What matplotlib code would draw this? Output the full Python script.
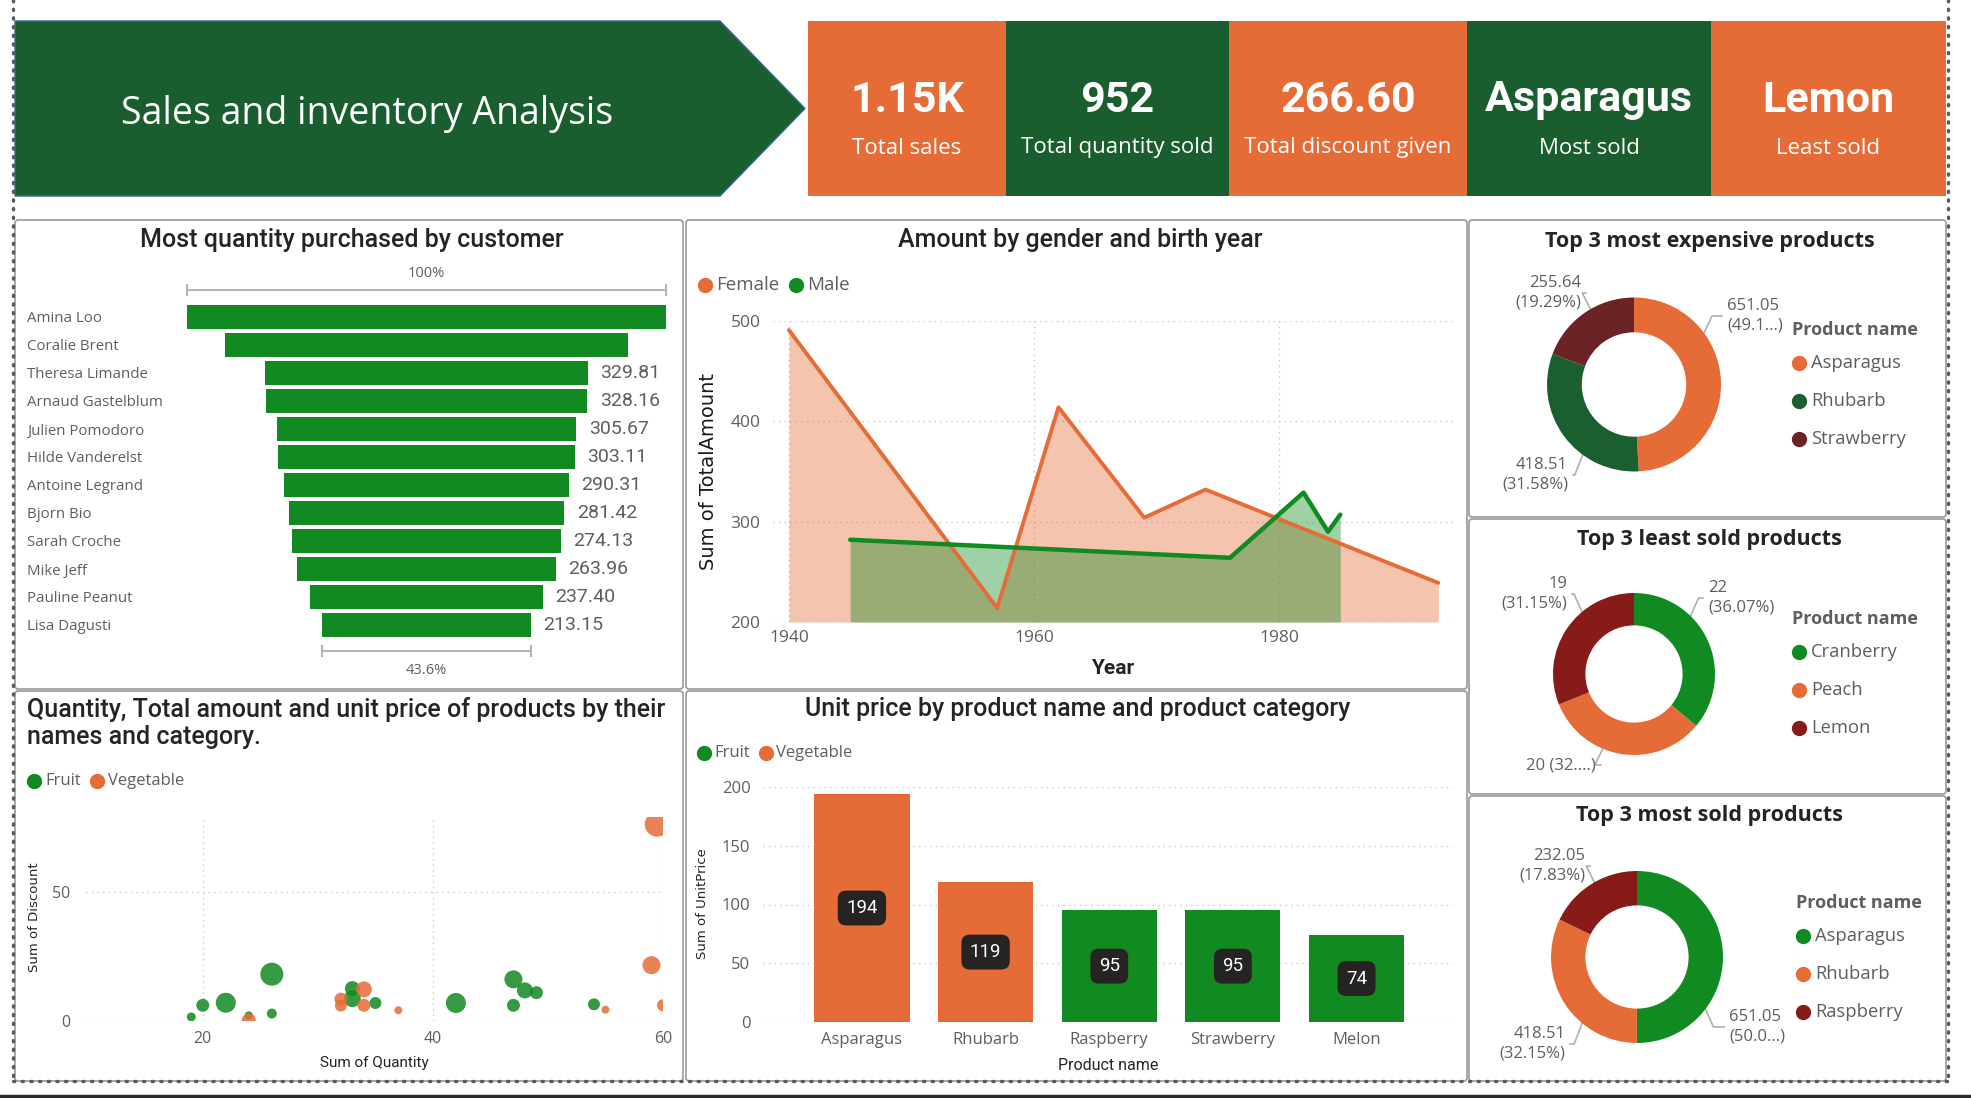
import matplotlib
matplotlib.use('Agg')
import matplotlib.pyplot as plt
import numpy as np
from matplotlib import font_manager as fm
from matplotlib.patches import Polygon, Rectangle, FancyBboxPatch

W, H = 1971, 1098

installed = {f.name for f in fm.fontManager.ttflist}
def pick(*names):
    for n in names:
        if n in installed:
            return n
    return 'DejaVu Sans'

SEGOE = pick('Open Sans', 'Noto Sans', 'Lato')
DIN = pick('Roboto', 'Inter', 'Lato')
WIDE = 'DejaVu Sans'

ORANGE = '#E66C37'
DKGREEN = '#1A5E2F'
GREEN = '#118A22'
TXT = '#252423'
GRAY = '#605E5C'
GRID = '#C8C8C8'

# ---------------- data ----------------
kpi_values = ['1.15K', '952', '266.60', 'Asparagus', 'Lemon']
kpi_labels = ['Total sales', 'Total quantity sold', 'Total discount given', 'Most sold', 'Least sold']

customers = ['Amina Loo', 'Coralie Brent', 'Theresa Limande', 'Arnaud Gastelblum', 'Julien Pomodoro',
             'Hilde Vanderelst', 'Antoine Legrand', 'Bjorn Bio', 'Sarah Croche', 'Mike Jeff',
             'Pauline Peanut', 'Lisa Dagusti']
customer_qty = [488.90, 412.10, 329.81, 328.16, 305.67, 303.11, 290.31, 281.42, 274.13, 263.96, 237.40, 213.15]

female_year = [1940, 1957, 1962, 1969, 1974, 1993]
female_amount = [491, 214, 414, 304, 332, 239]
male_year = [1945, 1976, 1982, 1984, 1985]
male_amount = [282, 264, 329, 290, 307]

fruit_qty = [19, 20, 22, 24, 26, 26, 33, 33, 35, 42, 47, 47, 48, 49, 54]
fruit_discount = [1.6, 6.1, 7.1, 2.2, 18.2, 2.9, 12.6, 8.7, 7.0, 7.0, 16.2, 6.1, 11.9, 11.0, 6.5]
fruit_price = [20, 42, 100, 16, 132, 25, 56, 72, 36, 100, 81, 42, 64, 42, 36]
veg_qty = [24, 32, 32, 34, 34, 37, 55, 59, 59.5, 60]
veg_discount = [0.3, 8.5, 6.0, 12.3, 6.1, 4.2, 4.4, 21.7, 76.5, 6.1]
veg_price = [49, 42, 36, 64, 42, 16, 16, 81, 156, 36]

products = ['Asparagus', 'Rhubarb', 'Raspberry', 'Strawberry', 'Melon']
product_category = ['Vegetable', 'Vegetable', 'Fruit', 'Fruit', 'Fruit']
unit_price = [194, 119, 95, 95, 74]

exp_names = ['Asparagus', 'Rhubarb', 'Strawberry']
exp_values = [651.05, 418.51, 255.64]
least_names = ['Cranberry', 'Peach', 'Lemon']
least_values = [22, 20, 19]
most_names = ['Asparagus', 'Rhubarb', 'Raspberry']
most_values = [651.05, 418.51, 232.05]

# ---------------- canvas ----------------
fig = plt.figure(figsize=(W / 100, H / 100), dpi=100)
bg = fig.add_axes([0, 0, 1, 1], zorder=0)
bg.set_xlim(0, W)
bg.set_ylim(H, 0)
bg.axis('off')

def box(x0, y0, x1, y1):
    a = fig.add_axes([x0 / W, 1 - y1 / H, (x1 - x0) / W, (y1 - y0) / H], zorder=2)
    a.patch.set_alpha(0)
    return a

def clean(a):
    for s in a.spines.values():
        s.set_visible(False)
    a.tick_params(length=0, labelcolor=GRAY)

TW = 'medium'  # weight of the chart titles

# outer dotted frame
dot = dict(color='#5A5A5A', lw=2.4, ls=(0, (0.4, 2.2)), dash_capstyle='round', zorder=5)
bg.plot([13, 13], [0, 1081], **dot)
bg.plot([1948, 1948], [0, 1081], **dot)
bg.plot([13, 1948], [1081, 1081], **dot)
bg.plot([0, W], [1096, 1096], color='#2B2B2B', lw=2.5)

# banner
bg.add_patch(Polygon([(15, 21), (720, 21), (805, 108.5), (720, 196), (15, 196)],
                     closed=True, fc=DKGREEN, ec='#2F6A8F', lw=1))
bg.text(367, 114, 'Sales and inventory Analysis', color='white', fontsize=27,
        family=SEGOE, ha='center', va='center')

card_edges = [808, 1006, 1229, 1467, 1711, 1946]
for i, (v, l) in enumerate(zip(kpi_values, kpi_labels)):
    x0, x1 = card_edges[i], card_edges[i + 1]
    bg.add_patch(Rectangle((x0, 21), x1 - x0, 175, fc=ORANGE if i % 2 == 0 else DKGREEN, ec='none'))
    bg.text((x0 + x1) / 2, 100, v, color='white', fontsize=31, fontweight='bold',
            family=DIN, ha='center', va='center')
    bg.text((x0 + x1) / 2, 148, l, color='white', fontsize=16, family=SEGOE,
            ha='center', va='center')

panels = [(15, 220, 683, 689), (686, 220, 1467, 689), (1469, 220, 1946, 517),
          (1469, 519, 1946, 794), (1469, 796, 1946, 1081), (15, 691, 683, 1081),
          (686, 691, 1467, 1081)]
for x0, y0, x1, y1 in panels:
    bg.add_patch(FancyBboxPatch((x0, y0), x1 - x0, y1 - y0,
                                boxstyle='round,pad=0,rounding_size=3',
                                fc='white', ec='#9A9A9A', lw=1.2))

# ---------------- funnel ----------------
bg.text(352, 240, 'Most quantity purchased by customer', fontsize=18, fontweight=TW,
        family=DIN, color=TXT, ha='center', va='center')
ax = box(187, 303, 666, 639)
q = np.array(customer_qty)
rows = np.arange(len(customers))
ax.barh(rows, q, left=-q / 2, height=0.89, color=GREEN)
ax.set_xlim(-q[0] / 2, q[0] / 2)
ax.set_ylim(11.5, -0.5)
ax.set_xticks([])
ax.set_yticks(rows, customers)
clean(ax)
ax.tick_params(axis='y', pad=(187 - 27) * 0.72, labelsize=10.8)
for t in ax.get_yticklabels():
    t.set_ha('left')
    t.set_family(SEGOE)
room = (676 - 426) / 479 * q[0]
for r, v in zip(rows, q):
    if v / 2 + 0.15 * q[0] < room:
        ax.annotate(f'{v:.2f}', (v / 2, r), xytext=(9, 0), textcoords='offset points',
                    va='center', ha='left', fontsize=14, family=DIN, color=GRAY)
br = dict(color='#B5B5B5', lw=1.5, clip_on=False)
for y, v, ty in [(-0.97, q[0], -1.55), (11.93, q[-1], 12.62)]:
    ax.plot([-v / 2, v / 2], [y, y], **br)
    ax.plot([-v / 2, -v / 2], [y - 0.18, y + 0.18], **br)
    ax.plot([v / 2, v / 2], [y - 0.18, y + 0.18], **br)
    ax.text(0, ty, f'{v / q[0] * 100:.3g}%', ha='center', va='center', fontsize=10.5,
            family=SEGOE, color=GRAY)

# ---------------- line / area chart ----------------
bg.text(1080, 240, 'Amount by gender and birth year', fontsize=18, fontweight=TW,
        family=DIN, color=TXT, ha='center', va='center')
for x, lab, c in [(705, 'Female', ORANGE), (796, 'Male', GREEN)]:
    bg.plot(x, 285, 'o', ms=10, color=c)
    bg.text(x + 11, 285, lab, fontsize=13.5, family=SEGOE, color=GRAY, va='center')
ax = box(773, 321, 1453, 622)
ax.fill_between(female_year, female_amount, 200, color=ORANGE, alpha=0.4, lw=0)
ax.fill_between(male_year, male_amount, 200, color=GREEN, alpha=0.4, lw=0)
ax.plot(female_year, female_amount, color=ORANGE, lw=2.8, solid_capstyle='round')
ax.plot(male_year, male_amount, color=GREEN, lw=3.2, solid_capstyle='round')
ax.set_xlim(1938.7, 1994.2)
ax.set_ylim(200, 500)
ax.set_xticks([1940, 1960, 1980])
ax.set_yticks([200, 300, 400, 500])
ax.grid(True, color=GRID, ls=(0, (1, 3)), lw=1)
ax.set_axisbelow(True)
clean(ax)
ax.tick_params(axis='y', pad=9, labelsize=12.5)
ax.tick_params(axis='x', pad=6, labelsize=12.5)
for t in ax.get_xticklabels() + ax.get_yticklabels():
    t.set_family(SEGOE)
ax.set_ylabel('Sum of TotalAmount', fontsize=14, family=WIDE, color='#1A1A1A')
ax.yaxis.set_label_coords((709 - 773) / 680, 0.5)
ax.yaxis.label.set_va('center')
ax.set_xlabel('Year', fontsize=15, family=DIN, fontweight='bold', color=TXT)
ax.xaxis.set_label_coords(0.5, (622 - 668) / 301)
ax.xaxis.label.set_va('center')

# ---------------- scatter ----------------
bg.text(27, 709, 'Quantity, Total amount and unit price of products by their', fontsize=18,
        fontweight=TW, family=DIN, color=TXT, va='center')
bg.text(27, 737, 'names and category.', fontsize=18, fontweight=TW, family=DIN, color=TXT,
        va='center')
for x, lab, c in [(34, 'Fruit', GREEN), (97, 'Vegetable', ORANGE)]:
    bg.plot(x, 781, 'o', ms=10, color=c)
    bg.text(x + 11, 781, lab, fontsize=12, family=SEGOE, color=GRAY, va='center')
ax = box(86, 817, 663, 1021)
sz = lambda p: (2 * np.sqrt(np.array(p)) * 0.72) ** 2
ax.scatter(fruit_qty, fruit_discount, s=sz(fruit_price), color=GREEN, alpha=0.85, lw=0, zorder=3)
ax.scatter(veg_qty, veg_discount, s=sz(veg_price), color=ORANGE, alpha=0.85, lw=0, zorder=3)
ax.set_xlim(9.85, 60)
ax.set_ylim(0, 79.3)
ax.set_xticks([20, 40, 60])
ax.set_yticks([0, 50])
ax.grid(True, color=GRID, ls=(0, (1, 3)), lw=1)
ax.set_axisbelow(True)
clean(ax)
ax.tick_params(axis='y', pad=11, labelsize=11.5)
ax.tick_params(axis='x', pad=7, labelsize=11.5)
for t in ax.get_xticklabels() + ax.get_yticklabels():
    t.set_family(SEGOE)
ax.set_ylabel('Sum of Discount', fontsize=9.5, family=WIDE, color=TXT)
ax.yaxis.set_label_coords((35 - 86) / 577, 0.51)
ax.yaxis.label.set_va('center')
ax.set_xlabel('Sum of Quantity', fontsize=11, family=DIN, color=TXT)
ax.xaxis.set_label_coords(0.5, (1021 - 1063) / 204)
ax.xaxis.label.set_va('center')

# ---------------- bar chart ----------------
bg.text(1078, 709, 'Unit price by product name and product category', fontsize=18,
        fontweight=TW, family=DIN, color=TXT, ha='center', va='center')
for x, lab, c in [(704, 'Fruit', GREEN), (766, 'Vegetable', ORANGE)]:
    bg.plot(x, 753, 'o', ms=10, color=c)
    bg.text(x + 10, 753, lab, fontsize=12, family=SEGOE, color=GRAY, va='center')
ax = box(763, 787, 1453, 1022)
xs = np.arange(len(products))
cols = [ORANGE if c == 'Vegetable' else GREEN for c in product_category]
ax.bar(xs, unit_price, width=0.77, color=cols, zorder=3)
for x, v in zip(xs, unit_price):
    ax.text(x, v / 2, str(v), ha='center', va='center', color='white', fontsize=13.5,
            family=DIN, zorder=4,
            bbox=dict(boxstyle='round,pad=0.45,rounding_size=0.45', fc='#252423', ec='none'))
ax.set_xlim(-0.8, 4.78)
ax.set_ylim(0, 200)
ax.set_yticks([0, 50, 100, 150, 200])
ax.set_xticks(xs, products)
ax.grid(True, axis='y', color=GRID, ls=(0, (1, 3)), lw=1)
ax.set_axisbelow(True)
clean(ax)
ax.tick_params(axis='y', pad=9, labelsize=12)
ax.tick_params(axis='x', pad=7, labelsize=12)
for t in ax.get_xticklabels() + ax.get_yticklabels():
    t.set_family(SEGOE)
ax.set_ylabel('Sum of UnitPrice', fontsize=9.5, family=WIDE, color=TXT)
ax.yaxis.set_label_coords((703 - 763) / 690, 0.502)
ax.yaxis.label.set_va('center')
ax.set_xlabel('Product name', fontsize=11.5, family=DIN, color=TXT)
ax.xaxis.set_label_coords(0.5, (1022 - 1066) / 235)
ax.xaxis.label.set_va('center')

# ---------------- donuts ----------------
def donut(cx, cy, R, title, ty, names, values, colors, fmt, labels, lx, ly):
    bg.text((1469 + 1946) / 2 + 2, ty, title, fontsize=15.5, fontweight='bold', family=SEGOE,
            color=TXT, ha='center', va='center')
    a = box(cx - R, cy - R, cx + R, cy + R)
    a.pie(values, colors=colors, startangle=90, counterclock=False, radius=1,
          wedgeprops=dict(width=0.4, lw=0))
    a.set_xlim(-1, 1)
    a.set_ylim(-1, 1)
    a.axis('off')
    tot = sum(values)
    cum = 0
    for v, (side, tx, tyl, cut, oneline) in zip(values, labels):
        t1 = 90 - cum / tot * 360
        cum += v
        t2 = 90 - cum / tot * 360
        ang = np.degrees(np.arctan2(-(tyl - cy), tx - cx))
        while ang > t1:
            ang -= 360
        while ang < t2:
            ang += 360
        ang = min(max(ang, t2 + 3), t1 - 3)
        p0 = (cx + R * np.cos(np.radians(ang)), cy - R * np.sin(np.radians(ang)))
        sg = 1 if side == 'left' else -1
        p1 = (p0[0] + sg * 8, tyl)
        p2 = (tx - sg * 5, tyl)
        bg.plot([p0[0], p1[0], p2[0]], [p0[1], p1[1], p2[1]], color='#B0B0B0', lw=1.2, zorder=3)
        pct = f'{v / tot * 100:.2f}%'
        if cut:
            pct = pct[:cut] + '...'
        s = fmt.format(v) + (' ' if oneline else '\n') + f'({pct})'
        bg.text(tx, tyl, s, ha=side, va='center', fontsize=12, family=SEGOE, color=GRAY,
                linespacing=1.3, zorder=3)
    bg.text(lx, ly, 'Product name', fontsize=13, fontweight='bold', family=SEGOE,
            color=GRAY, va='center')
    for k, (n, c) in enumerate(zip(names, colors)):
        yy = ly + 33 + k * 38
        bg.plot(lx + 7, yy, 'o', ms=10, color=c, zorder=3)
        bg.text(lx + 19, yy, n, fontsize=13.2, family=SEGOE, color=GRAY, va='center')

donut(1634, 384.5, 87, 'Top 3 most expensive products', 241, exp_names, exp_values,
      [ORANGE, '#1B5F30', '#6B2326'], '{:.2f}',
      [('left', 1727, 316, 4, False), ('right', 1568, 475, None, False),
       ('right', 1581, 293, None, False)], 1792, 330)
donut(1634, 674, 81, 'Top 3 least sold products', 539, least_names, least_values,
      [GREEN, ORANGE, '#861B17'], '{:.0f}',
      [('left', 1708, 598, None, False), ('right', 1596, 765, 3, True),
       ('right', 1567, 594, None, False)], 1792, 619)
donut(1637, 957, 86, 'Top 3 most sold products', 816, most_names, most_values,
      [GREEN, ORANGE, '#861B17'], '{:.2f}',
      [('left', 1729, 1027, 4, False), ('right', 1565, 1044, None, False),
       ('right', 1585, 866, None, False)], 1796, 903)

fig.savefig('out.png', dpi=100)
